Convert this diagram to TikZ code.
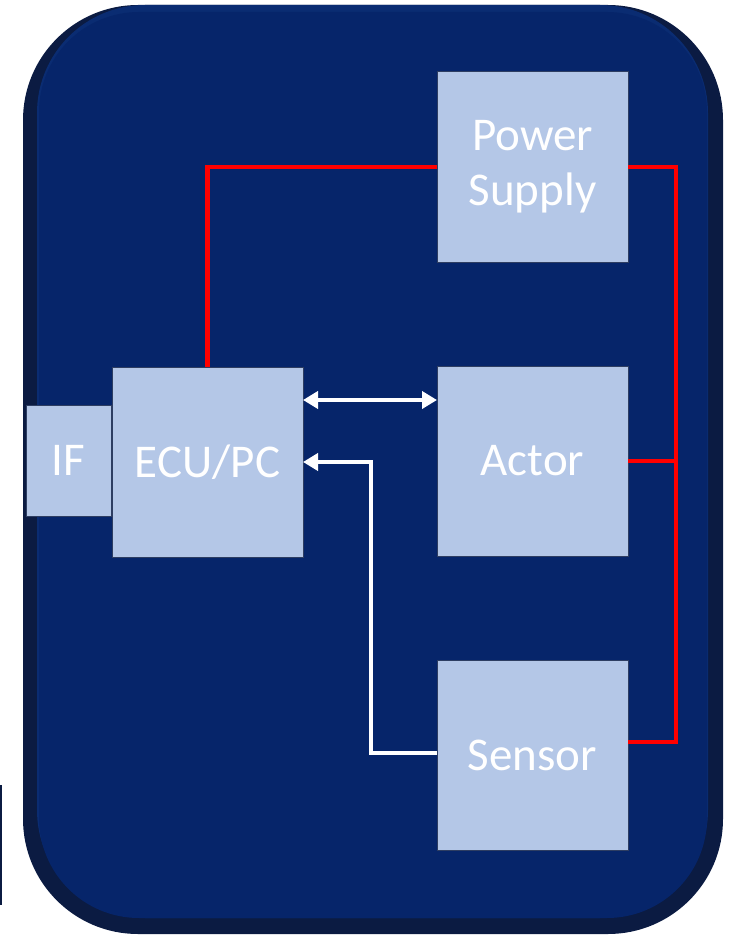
\documentclass[tikz,border=0pt]{standalone}
\usepackage{fontspec}
\setmainfont{Carlito}
\usepackage{tikz}
\usetikzlibrary{arrows.meta}

\definecolor{navy}{HTML}{06256A}
\definecolor{navyedge}{HTML}{0B1B42}
\definecolor{navytop}{HTML}{0A2C72}
\definecolor{boxblue}{HTML}{B4C7E7}
\definecolor{boxline}{HTML}{2E3E62}
\definecolor{pwrred}{HTML}{FF0000}

\begin{document}
\begin{tikzpicture}[x=1pt, y=-1pt,
        block/.style={fill=boxblue, draw=boxline, line width=1pt, inner sep=0pt, outer sep=0pt,
            minimum width=191pt, minimum height=190pt, text=white, align=center,
            font=\fontsize{47}{55}\selectfont},
        pwr/.style={pwrred, line width=4.5pt},
        sig/.style={white, line width=4.5pt, arrows={-Triangle[length=15pt,width=17pt]}}]
                \useasboundingbox (0,0) rectangle (735,936);
                
                % Housing with its bevelled rim
                \fill[navyedge] (23,5) [rounded corners=115pt] rectangle (723,934);
                \fill[navytop] (37,5) [rounded corners=108pt] rectangle (708,918);
                \fill[navy] (39,12) [rounded corners=100pt] rectangle (707,918);
                
                % Edge fragment at the far left
                \draw[navyedge, line width=2pt] (1,785) -- (1,905);
                
                % Blocks
                \node[block] (psu) at (532.5,167) {Power\\Supply};
                \node[block] (ecu) at (207.5,462) {ECU/PC};
                \node[block] (actor) at (532.5,461) {Actor};
                \node[block] (sensor) at (532.5,755) {Sensor};
                \node[block, minimum width=85pt, minimum height=111pt] (if) at (68.5,460.5) {IF};
                
                % Power lines
                \coordinate (bus) at (676,742);
                \draw[pwr] (ecu.north) |- (psu.west);
                \draw[pwr] (psu.east) -| (bus) -- ([yshift=13pt]sensor.east);
                \draw[pwr] (actor.east) -- (actor.east -| bus);
                
                % Signal lines
                \draw[sig, arrows={Triangle[length=15pt,width=17pt]-Triangle[length=15pt,width=17pt]}]
                    ([yshift=62pt]ecu.east) -- ([yshift=62pt]ecu.east -| actor.west);
                \coordinate (turn) at (371,462);
                \draw[sig] ([yshift=2pt]sensor.west) -| (turn) -- (ecu.east);
            \end{tikzpicture}
\end{document}
